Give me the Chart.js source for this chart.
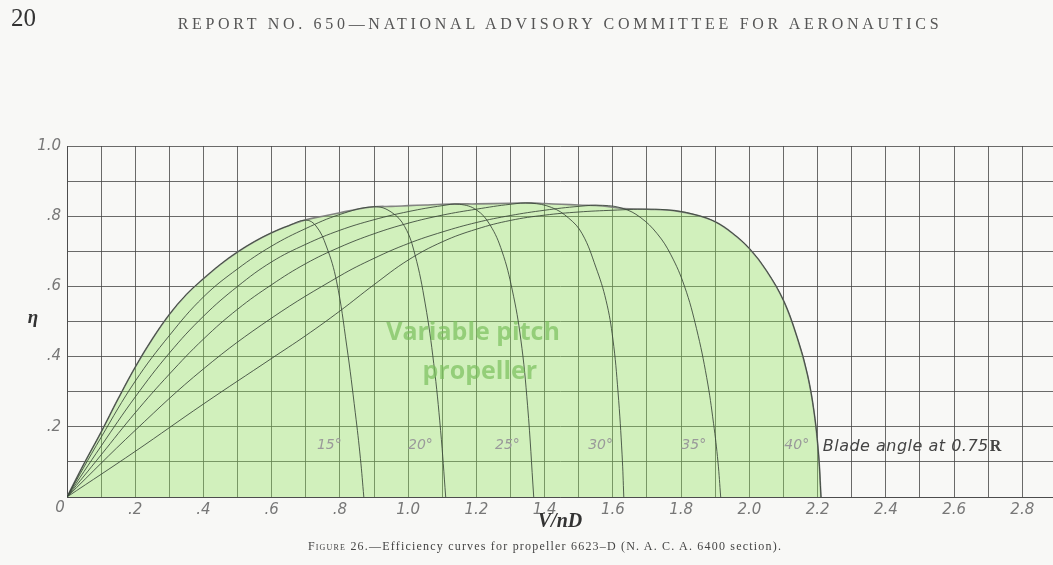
<!DOCTYPE html>
<html>
<head>
<meta charset="utf-8">
<script src="https://cdn.jsdelivr.net/npm/chart.js@4.4.1/dist/chart.umd.min.js"></script>
<style>
  html, body { margin: 0; padding: 0; background: #f8f8f6; }
  #wrap { position: relative; width: 1053px; height: 565px; overflow: hidden; }
  #chart { position: absolute; left: 0; top: 0; }
  #pageno { position: absolute; left: 11px; top: 4px; font: 25px 'Liberation Serif', serif; color: #333; }
  #running { position: absolute; left: 0; width: 1120px; top: 15px; text-align: center;
             font: 16px 'Liberation Serif', serif; letter-spacing: 3.7px; color: #555; white-space: nowrap; }
  #caption { position: absolute; left: 0; width: 1090px; top: 539px; text-align: center;
             font: 12px 'Liberation Serif', serif; letter-spacing: 1.2px; color: #444; white-space: nowrap; }
  #caption .sc { font-variant: small-caps; }
</style>
</head>
<body>
<div id="wrap">
  <canvas id="chart" width="1053" height="565"></canvas>
  <div id="pageno">20</div>
  <div id="running">REPORT NO. 650—NATIONAL ADVISORY COMMITTEE FOR AERONAUTICS</div>
  <div id="caption"><span class="sc">Figure</span> 26.—Efficiency curves for propeller 6623–D (N. A. C. A. 6400 section).</div>
</div>
<script>
// Efficiency η against advance ratio V/nD, one curve per blade angle at 0.75R
const vnd15 = [0, 0.05, 0.1, 0.15, 0.2, 0.25, 0.3, 0.35, 0.4, 0.45, 0.5, 0.55, 0.6, 0.65, 0.7, 0.73, 0.76, 0.79, 0.82, 0.845, 0.86, 0.87];
const eta15 = [0, 0.095, 0.185, 0.28, 0.37, 0.45, 0.52, 0.577, 0.622, 0.663, 0.698, 0.728, 0.753, 0.773, 0.789, 0.772, 0.715, 0.615, 0.43, 0.24, 0.11, 0];

const vnd20 = [0, 0.1, 0.2, 0.3, 0.4, 0.5, 0.6, 0.7, 0.8, 0.9, 0.95, 0.99, 1.02, 1.05, 1.075, 1.095, 1.11];
const eta20 = [0, 0.17, 0.33, 0.46, 0.57, 0.65, 0.715, 0.765, 0.805, 0.827, 0.812, 0.77, 0.69, 0.55, 0.38, 0.19, 0];

const vnd25 = [0, 0.1, 0.2, 0.3, 0.4, 0.5, 0.6, 0.7, 0.8, 0.9, 1.0, 1.1, 1.15, 1.2, 1.24, 1.275, 1.305, 1.33, 1.35, 1.368];
const eta25 = [0, 0.145, 0.285, 0.41, 0.515, 0.60, 0.67, 0.72, 0.76, 0.79, 0.813, 0.83, 0.834, 0.818, 0.775, 0.70, 0.59, 0.45, 0.26, 0];

const vnd30 = [0, 0.1, 0.2, 0.3, 0.4, 0.5, 0.6, 0.7, 0.8, 0.9, 1.0, 1.1, 1.2, 1.3, 1.36, 1.42, 1.47, 1.51, 1.55, 1.58, 1.6, 1.615, 1.627, 1.632];
const eta30 = [0, 0.12, 0.24, 0.35, 0.45, 0.535, 0.605, 0.665, 0.712, 0.75, 0.78, 0.803, 0.82, 0.834, 0.837, 0.825, 0.795, 0.75, 0.655, 0.56, 0.45, 0.30, 0.12, 0];

const vnd35 = [0, 0.2, 0.4, 0.6, 0.8, 0.9, 1.0, 1.1, 1.2, 1.3, 1.4, 1.5, 1.57, 1.63, 1.68, 1.73, 1.77, 1.81, 1.845, 1.875, 1.895, 1.908, 1.916];
const eta35 = [0, 0.19, 0.365, 0.51, 0.63, 0.68, 0.722, 0.755, 0.782, 0.802, 0.817, 0.828, 0.831, 0.822, 0.797, 0.75, 0.69, 0.60, 0.48, 0.34, 0.21, 0.10, 0];

const vnd40 = [0, 0.2, 0.4, 0.6, 0.7, 0.8, 0.9, 1.0, 1.1, 1.2, 1.3, 1.4, 1.5, 1.6, 1.7, 1.78, 1.85, 1.9, 1.95, 2.0, 2.05, 2.1, 2.14, 2.17, 2.19, 2.203, 2.21];
const eta40 = [0, 0.13, 0.265, 0.395, 0.46, 0.53, 0.605, 0.675, 0.727, 0.763, 0.788, 0.803, 0.812, 0.817, 0.82, 0.816, 0.802, 0.784, 0.752, 0.708, 0.645, 0.56, 0.455, 0.35, 0.24, 0.12, 0];

// Upper envelope: best efficiency reachable with a variable-pitch propeller
const vndEnv = [0, 0.05, 0.1, 0.15, 0.2, 0.25, 0.3, 0.35, 0.4, 0.45, 0.5, 0.55, 0.6, 0.65, 0.7, 0.75, 0.8, 0.85, 0.9, 0.95, 1.0, 1.05, 1.1, 1.15, 1.2, 1.3, 1.36, 1.4, 1.45, 1.5, 1.57, 1.63, 1.7, 1.78, 1.85, 1.9, 1.95, 2.0, 2.05, 2.1, 2.14, 2.17, 2.19, 2.203, 2.21];
const etaEnv = [0, 0.095, 0.185, 0.28, 0.37, 0.45, 0.52, 0.577, 0.622, 0.663, 0.698, 0.728, 0.753, 0.773, 0.79, 0.80, 0.81, 0.82, 0.827, 0.828, 0.83, 0.832, 0.834, 0.835, 0.835, 0.837, 0.838, 0.836, 0.834, 0.832, 0.829, 0.822, 0.82, 0.816, 0.802, 0.784, 0.752, 0.708, 0.645, 0.56, 0.455, 0.35, 0.24, 0.12, 0];

const angleLabels = ['15°', '20°', '25°', '30°', '35°', '40°'];
const angleLabelX = [0.769, 1.036, 1.291, 1.564, 1.837, 2.139];
const angleLabelY = 0.148;

const xGrid = [];
for (let i = 0; i <= 28; i++) xGrid.push(i / 10);
const yGrid = [];
for (let i = 0; i <= 10; i++) yGrid.push(i / 10);

const pts = (xs, ys) => xs.map((x, i) => ({ x: x, y: ys[i] }));

const curveStyle = {
  showLine: true,
  borderColor: 'rgba(55,68,55,0.85)',
  borderWidth: 1,
  pointRadius: 0,
  fill: false,
  tension: 0.4,
  order: 1
};

function tickText(v) {
  const n = Math.round(v * 10);
  if (n === 0 || n % 2 !== 0) return '';
  if (n >= 10) return (n / 10).toFixed(1);
  return '.' + n;
}

const annotate = {
  id: 'annotate',
  afterDatasetsDraw(chart) {
    const { ctx, scales: { x, y } } = chart;
    ctx.save();
    ctx.fillStyle = 'rgba(120,190,90,0.68)';
    ctx.font = "bold 25px 'Open Sans'";
    ctx.textAlign = 'center';
    ctx.textBaseline = 'middle';
    ctx.fillText('Variable pitch', x.getPixelForValue(1.19), y.getPixelForValue(0.467));
    ctx.fillText('propeller', x.getPixelForValue(1.21), y.getPixelForValue(0.356));

    // blade-angle labels
    ctx.font = "italic 14px 'DejaVu Sans'";
    ctx.fillStyle = '#9a9a9a';
    angleLabels.forEach((t, i) => {
      ctx.fillText(t, x.getPixelForValue(angleLabelX[i]), y.getPixelForValue(angleLabelY));
    });
    ctx.textAlign = 'left';
    ctx.fillStyle = '#444';
    ctx.font = "italic 16px 'DejaVu Sans'";
    ctx.letterSpacing = '0.5px';
    const bx = x.getPixelForValue(2.215), by = y.getPixelForValue(0.142);
    const main = 'Blade angle at 0.75';
    ctx.fillText(main, bx, by);
    const w = ctx.measureText(main).width;
    ctx.letterSpacing = '0px';
    ctx.font = "bold 16px 'Liberation Serif'";
    ctx.fillText('R', bx + w + 1, by);

    // origin and ordinate symbol
    ctx.textAlign = 'center';
    ctx.fillStyle = '#777';
    ctx.font = "italic 15px 'DejaVu Sans'";
    ctx.fillText('0', x.left - 7, y.bottom + 11);
    ctx.fillStyle = '#333';
    ctx.font = "italic bold 19px 'Liberation Serif'";
    ctx.fillText('η', 33, y.getPixelForValue(0.5) - 3);
    ctx.restore();
  }
};

const gridColor = 'rgba(70,70,70,0.8)';

new Chart(document.getElementById('chart'), {
  type: 'scatter',
  data: {
    datasets: [
      { label: '15°', data: pts(vnd15, eta15), ...curveStyle },
      { label: '20°', data: pts(vnd20, eta20), ...curveStyle },
      { label: '25°', data: pts(vnd25, eta25), ...curveStyle },
      { label: '30°', data: pts(vnd30, eta30), ...curveStyle },
      { label: '35°', data: pts(vnd35, eta35), ...curveStyle },
      { label: '40°', data: pts(vnd40, eta40), ...curveStyle },
      {
        label: 'Variable pitch',
        data: pts(vndEnv, etaEnv),
        showLine: true,
        borderColor: 'rgba(120,120,120,0.9)',
        borderWidth: 1.6,
        backgroundColor: 'rgba(145,225,95,0.38)',
        fill: 'origin',
        pointRadius: 0,
        tension: 0.4,
        order: 5
      }
    ]
  },
  options: {
    responsive: false,
    animation: false,
    devicePixelRatio: 1,
    layout: { padding: { top: 146, left: 0, right: 0, bottom: 0 } },
    plugins: { legend: { display: false }, tooltip: { enabled: false } },
    scales: {
      x: {
        type: 'linear',
        min: 0,
        max: 2.89,
        afterBuildTicks: s => { s.ticks = xGrid.map(v => ({ value: v })); },
        afterFit: s => { s.height = 68; },
        grid: { color: gridColor, lineWidth: 1, drawTicks: false },
        border: { display: true, color: gridColor, width: 1 },
        ticks: {
          callback: v => tickText(v),
          autoSkip: false,
          maxRotation: 0,
          padding: 4,
          color: '#777',
          font: { family: 'DejaVu Sans', style: 'italic', size: 15 }
        },
        title: {
          display: true,
          text: 'V/nD',
          color: '#333',
          font: { family: 'Liberation Serif', style: 'italic', weight: 'bold', size: 20 },
          padding: { top: 0, bottom: 31 }
        }
      },
      y: {
        type: 'linear',
        min: 0,
        max: 1.0,
        afterBuildTicks: s => { s.ticks = yGrid.map(v => ({ value: v })); },
        afterFit: s => { s.width = 67; },
        grid: { color: gridColor, lineWidth: 1, drawTicks: false },
        border: { display: true, color: gridColor, width: 1 },
        ticks: {
          callback: v => tickText(v),
          autoSkip: false,
          padding: 6,
          color: '#777',
          font: { family: 'DejaVu Sans', style: 'italic', size: 15 }
        }
      }
    }
  },
  plugins: [annotate]
});
</script>
</body>
</html>
